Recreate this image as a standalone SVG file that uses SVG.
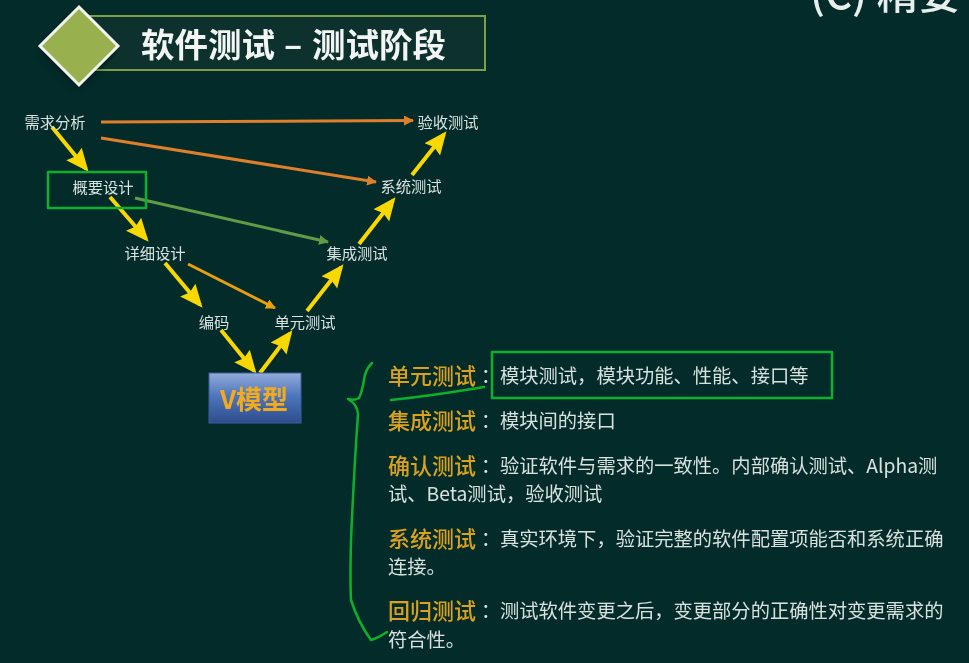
<svg xmlns="http://www.w3.org/2000/svg" width="969" height="663" viewBox="0 0 969 663">
<style>
text{font-family:"Noto Sans CJK SC","Noto Sans",sans-serif}
.n{font-size:15.3px;fill:#d9e2e0;text-anchor:middle}
.h{font-size:22px;fill:#dba11f;font-weight:500}
.b{font-size:19.3px;fill:#d8e1de}
.y{stroke:#f8d800;stroke-width:4;fill:none;marker-end:url(#ya)}
.t{fill:none;stroke-width:3}
.g{fill:none;stroke:#0fb02c;stroke-width:2.5;stroke-linecap:round;stroke-linejoin:round}
</style>
<defs>
<marker id="ya" markerUnits="userSpaceOnUse" markerWidth="26" markerHeight="22" refX="19" refY="11" orient="auto"><path d="M0 1L23 11L0 21L3 11Z" fill="#f8d800"/></marker>
<marker id="oa" markerUnits="userSpaceOnUse" markerWidth="11" markerHeight="11" refX="9" refY="5" orient="auto"><path d="M0 0L10 5L0 10Z" fill="#df7f2c"/></marker>
<marker id="ga" markerUnits="userSpaceOnUse" markerWidth="11" markerHeight="11" refX="9" refY="5" orient="auto"><path d="M0 0L10 5L0 10Z" fill="#5f9c45"/></marker>
<marker id="ba" markerUnits="userSpaceOnUse" markerWidth="11" markerHeight="11" refX="9" refY="5" orient="auto"><path d="M0 0L10 5L0 10Z" fill="#e8a010"/></marker>
<linearGradient id="vg" x1="0" y1="0" x2="0" y2="1"><stop offset="0" stop-color="#92acd9"/><stop offset=".45" stop-color="#4f76bd"/><stop offset="1" stop-color="#2c4d8c"/></linearGradient>
<filter id="s" x="-30%" y="-30%" width="160%" height="160%"><feGaussianBlur stdDeviation="4"/></filter>
<filter id="soft" x="-5%" y="-5%" width="110%" height="110%"><feGaussianBlur stdDeviation="0.55"/></filter>
</defs>
<rect width="969" height="663" fill="#032b2a"/>
<g filter="url(#soft)">
<g id="corner"><text x="810" y="9" font-size="42" fill="#e8eeec" font-weight="500">(C) 精要</text></g>
<g id="title">
<rect x="88" y="16" width="397" height="54" fill="#08322e" stroke="#7ba04a" stroke-width="2"/>
<path d="M79 10L116 46L79 82L42 46Z" fill="#000" opacity=".5" filter="url(#s)" transform="translate(0 5)"/>
<path d="M79 7L118 46L79 85L40 46Z" fill="#98b04e" stroke="#f2f5ee" stroke-width="3"/>
<text y="57" font-size="33.5" font-weight="700" fill="#f2f5f4"><tspan x="141">软件测试</tspan><tspan x="284">–</tspan><tspan x="312">测试阶段</tspan></text>
</g>
<g id="connectors">
<path class="y" d="M52 127L86 168.7"/>
<path class="y" d="M110 197L146 238.7"/>
<path class="y" d="M165 263L200 304.7"/>
<path class="y" d="M221 330L254 370.7"/>
<path class="y" d="M260 373L290 333.4"/>
<path class="y" d="M307 311L341 267.4"/>
<path class="y" d="M359 244L393 200.4"/>
<path class="y" d="M412 175L444 134.4"/>
<path class="t" stroke="#df7f2c" marker-end="url(#oa)" d="M101 122L413 120.5"/>
<path class="t" stroke="#df7f2c" marker-end="url(#oa)" d="M101 138L376 182"/>
<path class="t" stroke="#5f9c45" marker-end="url(#ga)" d="M135 198L328 242"/>
<path class="t" stroke="#e8a010" marker-end="url(#ba)" d="M188 264L275 308"/>
</g>
<g id="n1"><text class="n" x="55" y="128">需求分析</text></g>
<g id="n2"><rect class="g" x="48" y="172" width="98" height="36"/><text class="n" x="103" y="193">概要设计</text></g>
<g id="n3"><text class="n" x="155" y="259">详细设计</text></g>
<g id="n4"><text class="n" x="214" y="328">编码</text></g>
<g id="n5"><text class="n" x="305" y="328">单元测试</text></g>
<g id="n6"><text class="n" x="357" y="259">集成测试</text></g>
<g id="n7"><text class="n" x="411" y="192">系统测试</text></g>
<g id="n8"><text class="n" x="448" y="128">验收测试</text></g>
<g id="vmodel">
<rect x="209" y="373" width="92" height="50" fill="url(#vg)" stroke="#3d5f9f"/>
<text x="254" y="409" font-size="26" font-weight="700" fill="#f2ab1c" text-anchor="middle">V模型</text>
</g>
<g id="desc">
<text class="h" x="388" y="384">单元测试</text><text class="b" x="481" y="383">：</text><text class="b" x="500" y="383">模块测试，模块功能、性能、接口等</text>
<text class="h" x="388" y="429">集成测试</text><text class="b" x="481" y="428">：</text><text class="b" x="500" y="428">模块间的接口</text>
<text class="h" x="388" y="474">确认测试</text><text class="b" x="481" y="473">：</text><text class="b" x="500" y="473">验证软件与需求的一致性。内部确认测试、Alpha测</text>
<text class="b" x="388" y="501">试、Beta测试，验收测试</text>
<text class="h" x="388" y="547">系统测试</text><text class="b" x="481" y="546">：</text><text class="b" x="500" y="546">真实环境下，验证完整的软件配置项能否和系统正确</text>
<text class="b" x="388" y="574">连接。</text>
<text class="h" x="388" y="619">回归测试</text><text class="b" x="481" y="618">：</text><text class="b" x="500" y="618">测试软件变更之后，变更部分的正确性对变更需求的</text>
<text class="b" x="388" y="647">符合性。</text>
</g>
<g id="marks">
<rect class="g" x="492" y="352" width="340" height="46"/>
<path class="g" d="M372 363Q365 370 364 380Q362 392 359 398Q354 401 348 399Q357 404 358 414Q354 470 351 540Q350 580 351 600Q358 622 371 640Q378 638 387 632"/>
<path class="g" d="M391 400Q410 398 432 395Q460 391 484 387"/>
</g>
</g>
</svg>
